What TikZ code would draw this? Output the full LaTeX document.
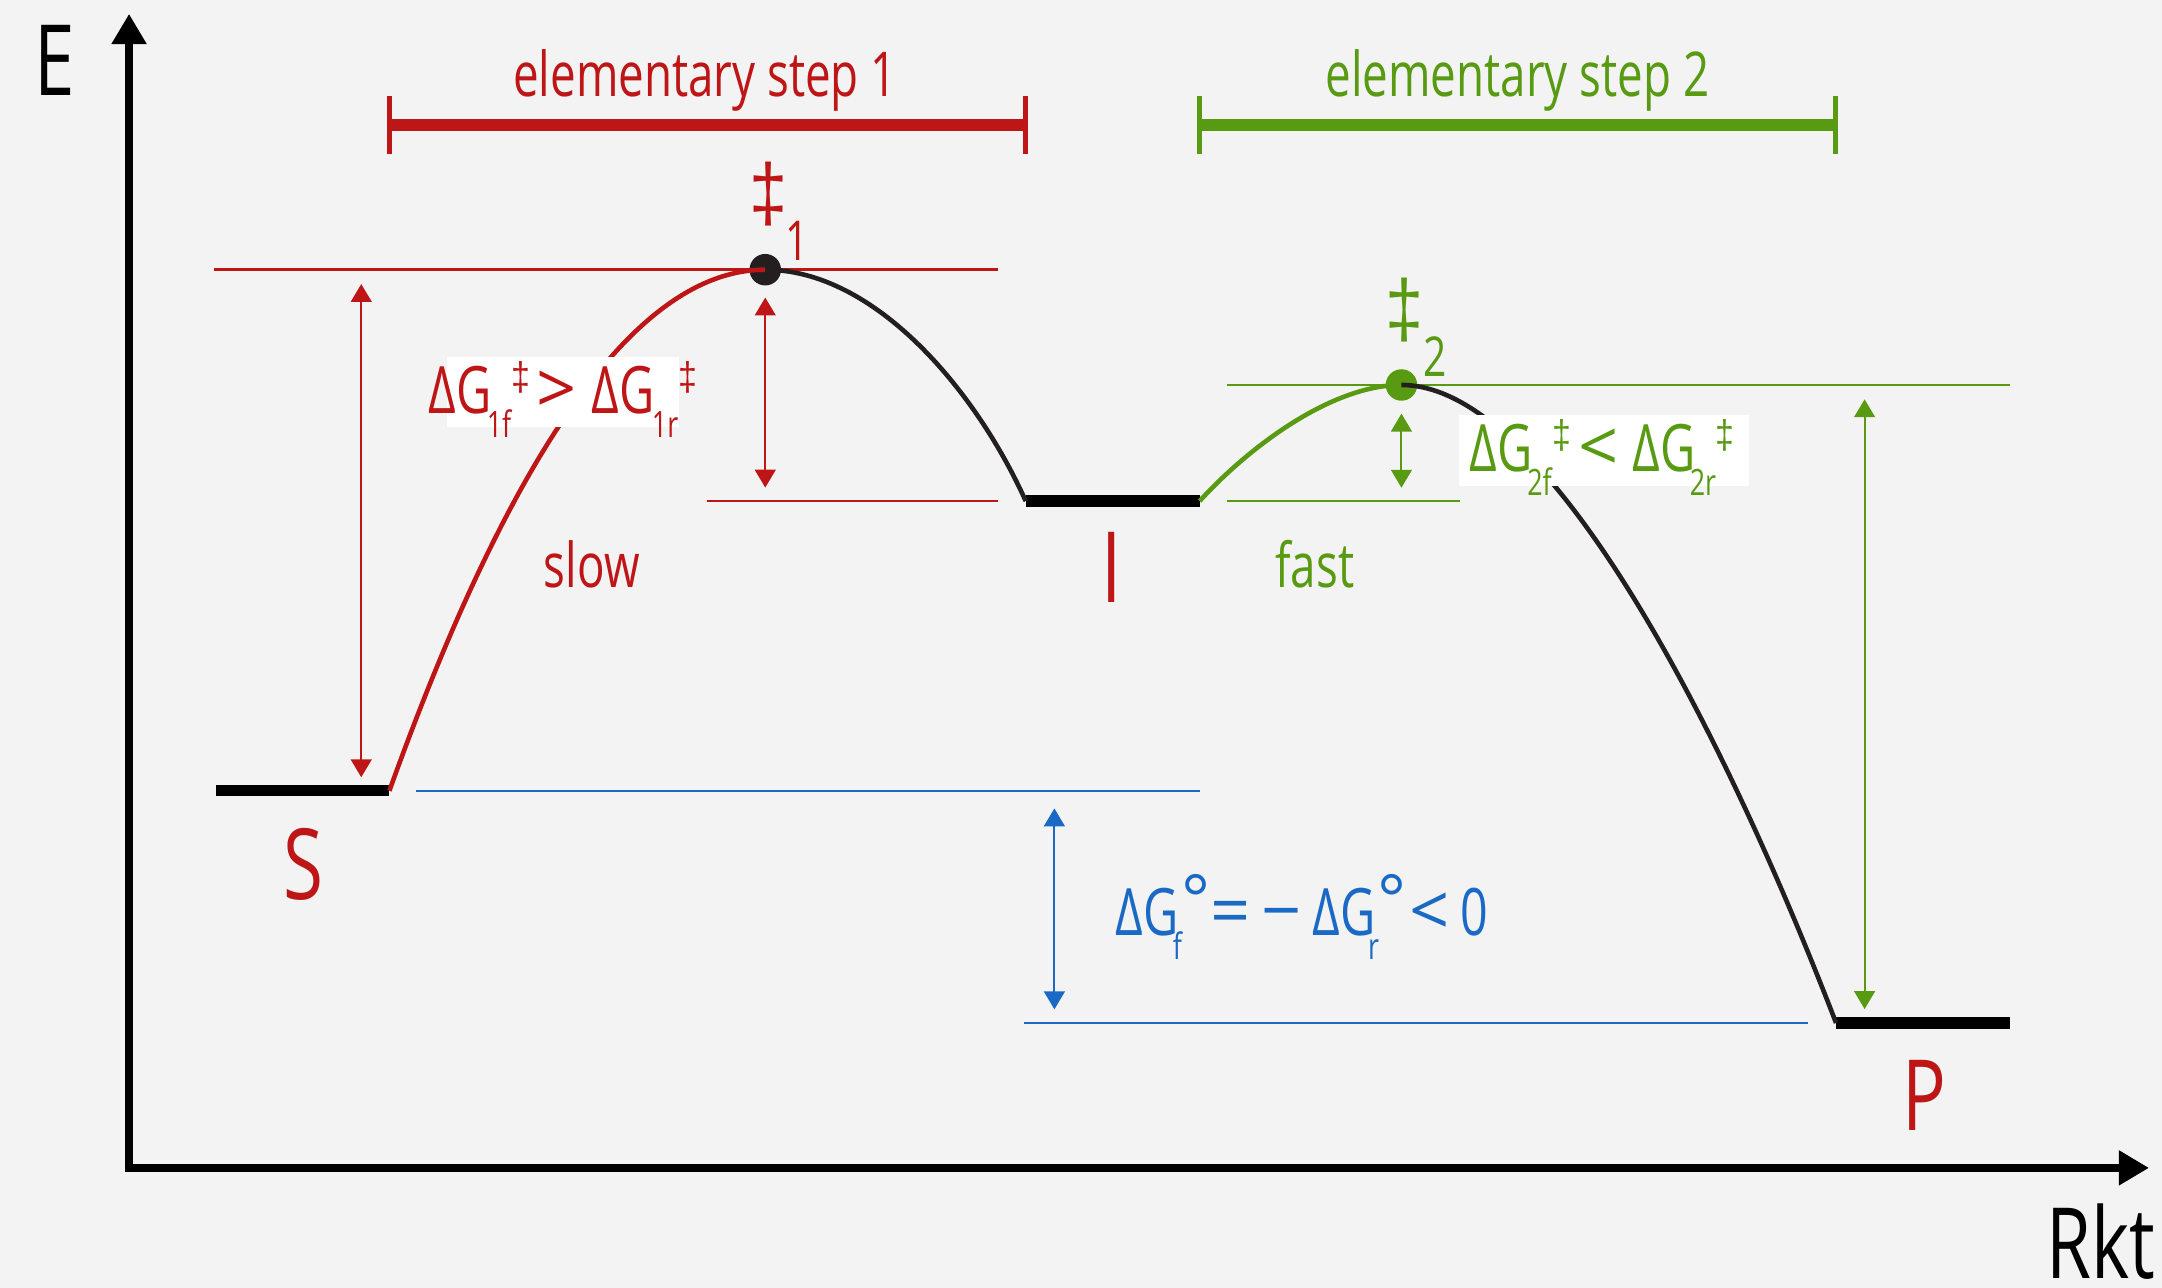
\documentclass[tikz,border=0pt]{standalone}
\usepackage{fontspec}
\setmainfont[FakeStretch=0.74]{Open Sans}
\newfontfamily\symf{Open Sans}
\newfontfamily\dagf[FakeStretch=0.85]{Liberation Sans}
\usetikzlibrary{arrows.meta}
\definecolor{cred}{HTML}{BE1616}
\definecolor{cgreen}{HTML}{589A12}
\definecolor{cblue}{HTML}{1A69C4}
\definecolor{ccurve}{HTML}{231F20}
\definecolor{cbg}{HTML}{F3F3F3}
\newcommand\fBig{\fontsize{40.6}{44}\selectfont}
\newcommand\fStep{\fontsize{25.5}{28}\selectfont}
\newcommand\fLbl{\fontsize{27}{30}\selectfont}
\newcommand\fSub{\fontsize{15}{17}\selectfont}
\newcommand\fSup{\dagf\fontsize{16.5}{18}\selectfont}
\newcommand\fDeg{\symf\fontsize{28}{30}\selectfont}
\newcommand\fRel{\symf\fontsize{29}{31}\selectfont}
\newcommand\fDag{\dagf\fontsize{33.3}{36}\selectfont}
\newcommand\fDagSub{\fontsize{22.7}{25}\selectfont}
\newlength\pxu \setlength\pxu{0.5691pt}
% piece placed at an offset (in picture pixels) from the label origin
\newcommand\pc[2]{\makebox[0pt][l]{\hspace{#1\pxu}#2}}
\newcommand\subpc[2]{\pc{#1}{\raisebox{-10pt}{\fSub #2}}}
\newcommand\suppc[2]{\pc{#1}{\raisebox{\dimexpr15pt-0.5\height+0.5\depth\relax}{#2}}}
\begin{document}
\begin{tikzpicture}[x=0.02cm,y=-0.02cm,
  txt/.style={inner sep=0pt,outer sep=0pt},
  axis/.style={line width=3.4pt,black,line join=miter,{Triangle[length=12.5pt,width=13.7pt]}-{Triangle[length=12.5pt,width=13.7pt]}},
  level/.style={line width=4.7pt,black},
  curve/.style={line width=1.9pt},
  guide/.style={line width=1.05pt},
  dblarrow/.style={line width=0.85pt,{Triangle[length=7.4pt,width=8.6pt]}-{Triangle[length=7.4pt,width=8.6pt]}},
  bar/.style={line width=4.8pt},
  tick/.style={line width=2pt},
  dot/.style={circle,inner sep=0pt,minimum size=13pt}]
\useasboundingbox[fill=cbg] (0,0) rectangle (1568,934);

% axes
\coordinate (ytip) at (93.6,10);
\coordinate (origin) at (93.6,847);
\coordinate (xtip) at (1558.6,847);
\draw[axis] (ytip) -- (origin) -- (xtip);
\node[txt,anchor=base] (E) at (39.7,69.4) {\fBig E};
\node[txt,anchor=base] (Rkt) at (1523.5,927.5) {\fBig Rkt};

% key coordinates
\coordinate (Sl) at (156.7,573.5); \coordinate (Sr) at (282.4,573.5);
\coordinate (T1) at (555,195.6);
\coordinate (Il) at (743.9,363.4); \coordinate (Ir) at (870,363.4);
\coordinate (T2) at (1016.4,279.2);
\coordinate (Pl) at (1331.6,741.9); \coordinate (Pr) at (1457.5,741.9);

% brackets
\draw[bar,cred] (282.4,90.7) -- (743.9,90.7);
\draw[tick,cred] (282.4,69.4) -- (282.4,111.4);
\draw[tick,cred] (743.9,69.4) -- (743.9,111.4);
\node[txt,anchor=base,text=cred] (st1) at (511.4,70) {\fStep elementary step 1};
\draw[bar,cgreen] (870,90.7) -- (1331.3,90.7);
\draw[tick,cgreen] (870,69.4) -- (870,111.4);
\draw[tick,cgreen] (1331.3,69.4) -- (1331.3,111.4);
\node[txt,anchor=base,text=cgreen] (st2) at (1100.4,70) {\fStep elementary step 2};

% guide lines
\draw[guide,cred] (155,195.6) -- (723.5,195.6);
\draw[guide,cred] (512.4,363.4) -- (723.5,363.4);
\draw[guide,cgreen] (890,279.2) -- (1457.5,279.2);
\draw[guide,cgreen] (890,363.4) -- (1059,363.4);
\draw[guide,cblue] (302,573.5) -- (870.4,573.5);
\draw[guide,cblue] (742.8,741.9) -- (1311,741.9);

% double arrows
\draw[dblarrow,cred] (262,206) -- (262,563.7);
\draw[dblarrow,cred] (555,215.8) -- (555,353.6);
\draw[dblarrow,cgreen] (1016.4,300) -- (1016.4,353.7);
\draw[dblarrow,cgreen] (1352.3,289.6) -- (1352.3,731.8);
\draw[dblarrow,cblue] (764.7,586.3) -- (764.7,732);

% levels
\draw[level] (Sl) -- (Sr);
\draw[level] (Il) -- (Ir);
\draw[level] (Pl) -- (Pr);

% transition state dots
\node[dot,fill=ccurve] (d1) at (T1) {};
\node[dot,fill=cgreen] (d2) at (T2) {};

% curves
\draw[curve,cred] (Sr) .. controls (373,321) and (464,195.6) .. (T1);
\draw[curve,ccurve] (T1) .. controls (635,195.6) and (708.4,284.3) .. (Il);
\draw[curve,cgreen] (Ir) .. controls (905,325) and (965,279.2) .. (T2);
\draw[curve,ccurve] (T2) .. controls (1126.4,279.2) and (1256.6,546.9) .. (Pl);

% white label boxes
\fill[white] (324,259) rectangle (492.5,310);
\fill[white] (1058.2,301) rectangle (1268.5,352.3);

% labels
\node[txt,anchor=base west,text=cred] (lab1) at (310,299.8)
  {\fLbl\pc{0}{ΔG}\subpc{42.2}{1f}\suppc{60.3}{\fSup ‡}\pc{78}{\fRel >}%
   \pc{118}{ΔG}\subpc{162}{1r}\suppc{181.5}{\fSup ‡}\hspace{189\pxu}};
\node[txt,anchor=base west,text=cgreen] (lab2) at (1065,342.1)
  {\fLbl\pc{0}{ΔG}\subpc{41.8}{2f}\suppc{60}{\fSup ‡}\pc{78.6}{\fRel <}%
   \pc{118.4}{ΔG}\subpc{159.7}{2r}\suppc{178}{\fSup ‡}\hspace{188\pxu}};
\node[txt,anchor=base west,text=cblue] (lab3) at (808,678.2)
  {\fLbl\pc{0}{ΔG}\subpc{41.7}{f}\suppc{47.8}{\fDeg °}\pc{68.9}{\fRel =}%
   \pc{105.9}{\fRel −}\pc{143}{ΔG}\subpc{183.4}{r}\suppc{190.2}{\fDeg °}%
   \pc{213.4}{\fRel <}\pc{250.5}{0}\hspace{271\pxu}};

\node[txt,text=cred] (dag1) at (557.1,140.4) {\fDag ‡};
\node[txt,anchor=base,text=cred] (dag1s) at (578.4,189) {\fDagSub 1};
\node[txt,text=cgreen] (dag2) at (1018.8,224.6) {\fDag ‡};
\node[txt,anchor=base,text=cgreen] (dag2s) at (1041,273.3) {\fDagSub 2};

\node[txt,anchor=base,text=cred] (slow) at (429.2,426.4) {\fStep slow};
\node[txt,anchor=base,text=cgreen] (fast) at (953.5,426.4) {\fStep fast};

\node[txt,anchor=base,text=cred] (S) at (220,652) {\fBig S};
\node[txt,anchor=base,text=cred] (I) at (806.5,437) {\fBig I};
\node[txt,anchor=base,text=cred] (P) at (1396,820) {\fBig P};
\end{tikzpicture}
\end{document}
